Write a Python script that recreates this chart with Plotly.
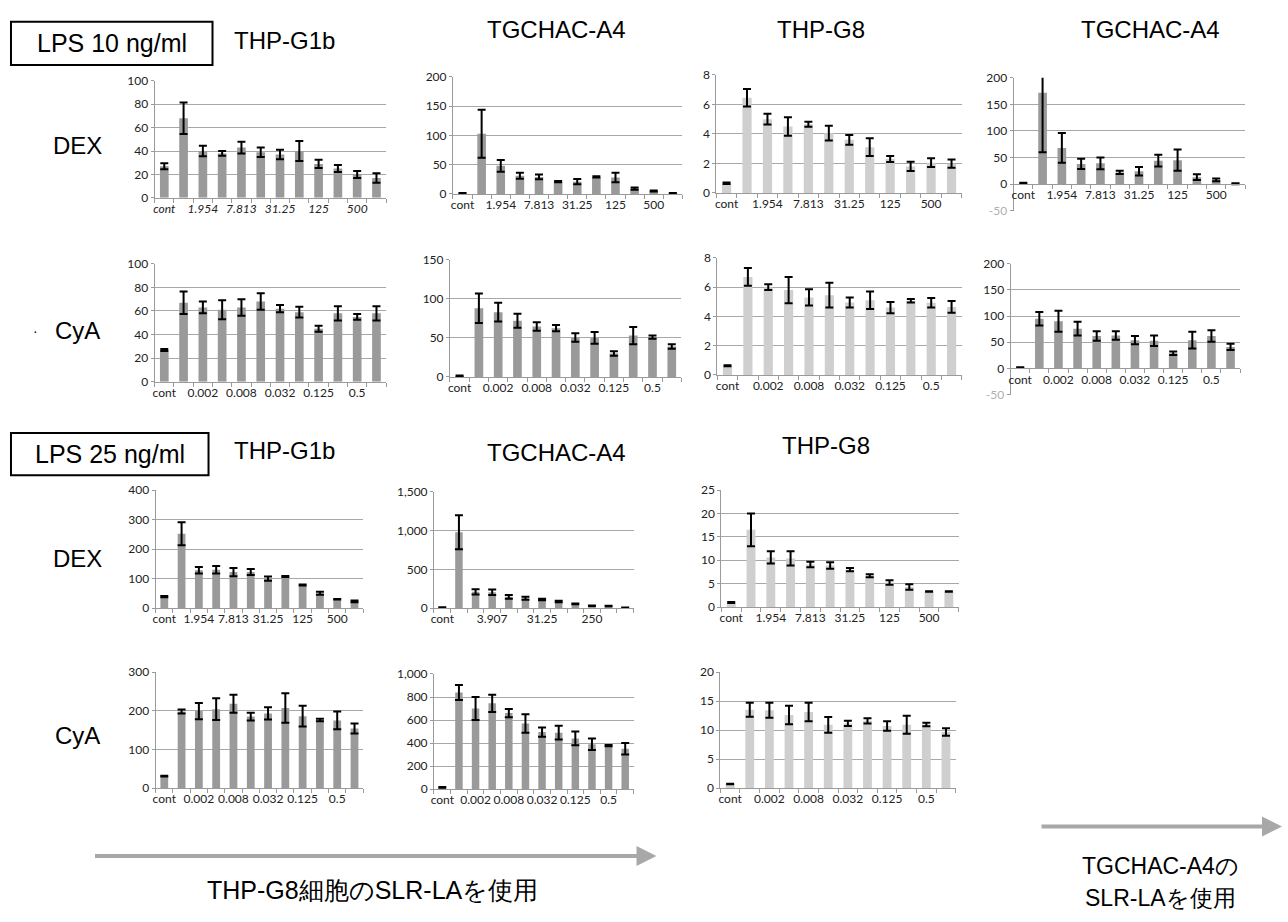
import plotly.graph_objects as go

# ---------------- data ----------------
n_cat = 12
dex_labels = ["cont", "1.954", "7.813", "31.25", "125", "500"]
dex_label_pos = [0, 2, 4, 6, 8, 10]
dex_labels_b = ["cont", "3.907", "31.25", "250"]
dex_label_pos_b = [0, 3, 6, 9]
cya_labels = ["cont", "0.002", "0.008", "0.032", "0.125", "0.5"]
cya_label_pos = [0, 2, 4, 6, 8, 10]

# LPS 10 ng/ml, DEX
g1b_dex10_mean = [27, 68, 40, 38, 43, 39, 37, 40, 29, 25, 20, 17]
g1b_dex10_err = [2.5, 13.5, 4.5, 2, 5, 4, 4, 8.5, 3.5, 3, 3, 4]
a4_dex10_mean = [1, 103, 48, 31, 29, 21, 21, 29, 28, 9, 5, 1]
a4_dex10_err = [0.5, 41, 10, 5, 4, 1, 4.5, 1, 8, 2, 1, 0.5]
g8_dex10_mean = [0.65, 6.45, 5.0, 4.5, 4.65, 4.05, 3.6, 3.1, 2.3, 1.8, 2.05, 1.98]
g8_dex10_err = [0.05, 0.6, 0.37, 0.63, 0.17, 0.5, 0.33, 0.6, 0.2, 0.32, 0.3, 0.28]
a4b_dex10_mean = [2, 172, 68, 38, 39, 22, 24, 44, 45, 13, 8, 0.5]
a4b_dex10_err = [0.5, 112, 28, 9.5, 11, 3, 8, 11, 20, 5.5, 2.5, 1]

# LPS 10 ng/ml, CyA
g1b_cya10_mean = [27, 67, 63, 61, 63, 68, 62, 59, 45, 58, 55, 58]
g1b_cya10_err = [0.8, 9.5, 5, 8, 7, 7, 3, 4.5, 2.5, 6, 2.5, 6]
a4_cya10_mean = [1.5, 88, 83, 72, 64.5, 62.5, 50.5, 50, 30, 53, 51, 39]
a4_cya10_err = [0.3, 19, 12, 9, 5.5, 4, 5.5, 7.5, 3, 11, 2, 3]
g8_cya10_mean = [0.63, 6.7, 6.0, 5.8, 5.3, 5.45, 4.95, 5.1, 4.6, 5.07, 4.93, 4.65]
g8_cya10_err = [0.03, 0.6, 0.2, 0.9, 0.55, 0.85, 0.35, 0.6, 0.38, 0.12, 0.33, 0.4]
a4b_cya10_mean = [2, 95, 90, 76, 62, 63, 54, 53, 29, 54, 62, 41]
a4b_cya10_err = [0.5, 13, 20, 13, 9, 8, 8, 10, 3.5, 16, 11, 6]

# LPS 25 ng/ml, DEX
g1b_dex25_mean = [39, 252, 128, 130, 122, 122, 100, 107, 78, 50, 30, 23]
g1b_dex25_err = [2, 39, 11, 13, 14, 10, 7, 1.5, 1.5, 5, 1, 3]
a4_dex25_mean = [10, 980, 210, 205, 145, 128, 112, 85, 55, 30, 28, 5]
a4_dex25_err = [2, 220, 33, 35, 25, 20, 10, 10, 5, 3, 3, 2]
g8_dex25_mean = [1.0, 16.5, 10.6, 10.4, 9.1, 8.9, 8.0, 6.7, 5.25, 4.3, 3.35, 3.35]
g8_dex25_err = [0.1, 3.5, 1.3, 1.5, 0.6, 0.7, 0.35, 0.3, 0.5, 0.6, 0.05, 0.05]

# LPS 25 ng/ml, CyA
g1b_cya25_mean = [31, 198, 199, 204, 218, 185, 193, 207, 186, 176, 175, 154]
g1b_cya25_err = [1, 5, 21, 28, 23, 10, 16, 38, 27, 3, 23, 13]
a4_cya25_mean = [15, 840, 700, 745, 660, 570, 495, 490, 440, 390, 378, 350]
a4_cya25_err = [3, 65, 100, 75, 35, 80, 40, 60, 60, 50, 5, 50]
g8_cya25_mean = [0.7, 13.5, 13.4, 12.6, 13.1, 10.9, 11.15, 11.6, 10.7, 10.9, 10.95, 9.65]
g8_cya25_err = [0.05, 1.2, 1.3, 1.6, 1.6, 1.35, 0.45, 0.45, 0.8, 1.55, 0.3, 0.65]

# ---------------- layout helpers ----------------
W, H = 1288, 922
DARK = "#9a9a9a"
LIGHT = "#cfcfcf"
GRID = "#a8a8a8"
TICKFONT = dict(family="Lato, Open Sans, sans-serif", size=12, color="#222")


def px(x):
    return x / W


def py(y):
    return 1 - y / H


# each panel: data, colour, x pixel span, y pixel of (ymax, ymin), y range, tick step, labels, italic
panels = [
    (g1b_dex10_mean, g1b_dex10_err, DARK, (152, 384), (74, 193), (0, 100), 20, dex_labels, dex_label_pos, True),
    (a4_dex10_mean, a4_dex10_err, DARK, (451, 681), (70, 189), (0, 200), 50, dex_labels, dex_label_pos, False),
    (g8_dex10_mean, g8_dex10_err, LIGHT, (715, 961), (68, 188), (0, 8), 2, dex_labels, dex_label_pos, False),
    (a4b_dex10_mean, a4b_dex10_err, DARK, (1013, 1245), (71, 206), (-50, 200), 50, dex_labels, dex_label_pos, False),
    (g1b_cya10_mean, g1b_cya10_err, DARK, (152, 384), (260, 380), (0, 100), 20, cya_labels, cya_label_pos, False),
    (a4_cya10_mean, a4_cya10_err, DARK, (448, 680), (256, 375), (0, 150), 50, cya_labels, cya_label_pos, False),
    (g8_cya10_mean, g8_cya10_err, LIGHT, (716, 961), (254, 373), (0, 8), 2, cya_labels, cya_label_pos, False),
    (a4b_cya10_mean, a4b_cya10_err, DARK, (1010, 1240), (260, 393), (-50, 200), 50, cya_labels, cya_label_pos, False),
    (g1b_dex25_mean, g1b_dex25_err, DARK, (153, 361), (490, 610), (0, 400), 100, dex_labels, dex_label_pos, False),
    (a4_dex25_mean, a4_dex25_err, DARK, (432, 632), (492, 610), (0, 1500), 500, dex_labels_b, dex_label_pos_b, False),
    (g8_dex25_mean, g8_dex25_err, LIGHT, (720, 958), (490, 609), (0, 25), 5, dex_labels, dex_label_pos, False),
    (g1b_cya25_mean, g1b_cya25_err, DARK, (153, 361), (675, 793), (0, 300), 100, cya_labels, cya_label_pos, False),
    (a4_cya25_mean, a4_cya25_err, DARK, (432, 632), (677, 794), (0, 1000), 200, cya_labels, cya_label_pos, False),
    (g8_cya25_mean, g8_cya25_err, LIGHT, (719, 955), (675, 793), (0, 20), 5, cya_labels, cya_label_pos, False),
]

fig = go.Figure()
layout_axes = {}
cats = list(range(n_cat))

for i, (mean, err, color, xs, ys, yr, step, labels, lpos, italic) in enumerate(panels, start=1):
    xa = "x" if i == 1 else f"x{i}"
    ya = "y" if i == 1 else f"y{i}"
    fig.add_trace(go.Bar(
        x=cats, y=mean, xaxis=xa, yaxis=ya,
        marker=dict(color=color, line=dict(width=0)),
        width=0.45,
        error_y=dict(type="data", array=err, visible=True, color="black", thickness=2, width=4),
        showlegend=False,
    ))
    ymin, ymax = yr
    ytop_px, ybot_px = ys
    xkey = "xaxis" if i == 1 else f"xaxis{i}"
    ykey = "yaxis" if i == 1 else f"yaxis{i}"
    tickvals_y = []
    v = ymin
    while v <= ymax + 1e-9:
        tickvals_y.append(v)
        v += step
    ticktext_y = []
    for t in tickvals_y:
        s = f"{t:,.0f}"
        if t < 0:
            s = f'<span style="color:#b0b0b0">{s}</span>'
        ticktext_y.append(s)
    xt = [f"<i>{s}</i>" for s in labels] if italic else labels
    xdict = dict(
        domain=[px(xs[0]), px(xs[1])],
        range=[-0.5, n_cat - 0.5],
        tickmode="array", tickvals=lpos, ticktext=xt,
        ticks="", showgrid=False, zeroline=False,
        showline=True, linecolor="#9a9a9a", linewidth=1,
        tickfont=TICKFONT,
        minor=dict(tickmode="array", tickvals=[k - 0.5 for k in range(n_cat + 1)],
                   ticks="outside", ticklen=4, tickcolor="#9a9a9a", showgrid=False),
        fixedrange=True,
    )
    if ymin < 0:
        zero_px = ytop_px + (ybot_px - ytop_px) * (ymax - 0) / (ymax - ymin)
        xdict.update(anchor="free", position=py(zero_px))
    else:
        xdict.update(anchor=ya)
    layout_axes[xkey] = xdict
    layout_axes[ykey] = dict(
        domain=[py(ybot_px), py(ytop_px)],
        range=[ymin, ymax],
        tickmode="array", tickvals=tickvals_y, ticktext=ticktext_y,
        showgrid=True, gridcolor=GRID, gridwidth=1,
        zeroline=False, showline=True, linecolor="#9a9a9a", linewidth=1,
        ticks="outside", ticklen=3, tickcolor="#9a9a9a",
        tickfont=TICKFONT, anchor=xa, fixedrange=True,
    )

fig.update_layout(**layout_axes)

TF = "Liberation Sans, Arial, sans-serif"
annotations = []


def text(x, y, s, size=24, xanchor="center"):
    annotations.append(dict(x=px(x), y=py(y), xref="paper", yref="paper", text=s, showarrow=False,
                            font=dict(family=TF, size=size, color="black"),
                            xanchor=xanchor, yanchor="middle"))


# titles
text(282, 33, "THP-G1b")
text(555, 22, "TGCHAC-A4")
text(820, 22, "THP-G8")
text(1150, 22, "TGCHAC-A4")
text(282, 450, "THP-G1b")
text(555, 452, "TGCHAC-A4")
text(825, 445, "THP-G8")
text(75, 140, "DEX")
text(75, 328, "CyA")
text(33, 328, "·", size=14)
text(75, 560, "DEX")
text(75, 740, "CyA")
text(109, 36, "LPS 10 ng/ml", size=25)
text(107, 453, "LPS 25 ng/ml", size=25)
text(370, 897, "THP-G8細胞のSLR-LAを使用", size=25)
text(1160, 872, "TGCHAC-A4の", size=23)
text(1160, 905, "SLR-LAを使用", size=23)

# arrows
for (x0, x1, y) in [(92, 655, 862), (1040, 1282, 832)]:
    annotations.append(dict(x=px(x1), y=py(y), xref="paper", yref="paper",
                            ax=x0 - x1, ay=0, axref="pixel", ayref="pixel",
                            text="", showarrow=True, arrowhead=2, arrowsize=1,
                            arrowwidth=4, arrowcolor="#a8a8a8"))

shapes = [
    dict(type="rect", xref="paper", yref="paper", x0=px(8), x1=px(210), y0=py(58), y1=py(14),
         line=dict(color="black", width=2)),
    dict(type="rect", xref="paper", yref="paper", x0=px(8), x1=px(206), y0=py(475), y1=py(432),
         line=dict(color="black", width=2)),
]

fig.update_layout(
    width=W, height=H, margin=dict(l=0, r=0, t=0, b=0),
    paper_bgcolor="white", plot_bgcolor="white",
    annotations=annotations, shapes=shapes, bargap=0.5,
    showlegend=False,
)

fig.write_html("out.html")
